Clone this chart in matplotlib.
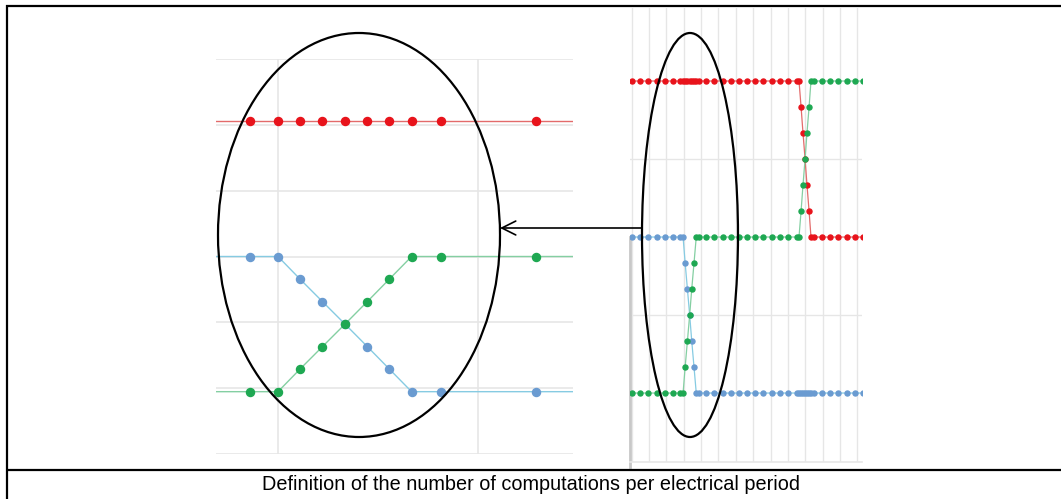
import numpy as np
import matplotlib
matplotlib.use("Agg")
import matplotlib.pyplot as plt
from matplotlib.patches import Ellipse, FancyArrowPatch

# ---------------- data ----------------
# Right panel: one electrical period (x in grid cells, y normalised levels)
t_full = [0.02, 0.48, 0.94, 1.46, 1.92, 2.38, 2.80, 2.96, 3.08, 3.21, 3.34, 3.46,
          3.59, 3.72, 3.88, 4.28, 4.74, 5.26, 5.72, 6.18, 6.64, 7.10, 7.56, 8.08,
          8.54, 9.00, 9.52, 9.64, 9.76, 9.87, 9.99, 10.10, 10.22, 10.33, 10.51,
          10.97, 11.43, 11.89, 12.41, 12.87, 13.33]
red_full = [1, 1, 1, 1, 1, 1, 1, 1, 1, 1, 1, 1, 1, 1, 1, 1, 1, 1, 1, 1, 1, 1, 1, 1,
            1, 1, 1, 1, 0.833, 0.667, 0.5, 0.333, 0.167, 0, 0, 0, 0, 0, 0, 0, 0]
green_full = [-1, -1, -1, -1, -1, -1, -1, -1, -0.833, -0.667, -0.5, -0.333, -0.167,
              0, 0, 0, 0, 0, 0, 0, 0, 0, 0, 0, 0, 0, 0, 0, 0.167, 0.333, 0.5,
              0.667, 0.833, 1, 1, 1, 1, 1, 1, 1, 1]
blue_full = [0, 0, 0, 0, 0, 0, 0, 0, -0.167, -0.333, -0.5, -0.667, -0.833, -1, -1,
             -1, -1, -1, -1, -1, -1, -1, -1, -1, -1, -1, -1, -1, -1, -1, -1, -1,
             -1, -1, -1, -1, -1, -1, -1, -1, -1]

# Left panel: zoom on the first commutation
t_zoom = [-0.45, -0.14, 0.0, 0.11, 0.222, 0.335, 0.447, 0.557, 0.668, 0.813, 1.288, 1.76]
red_zoom = [1, 1, 1, 1, 1, 1, 1, 1, 1, 1, 1, 1]
blue_zoom = [0, 0, 0, -0.167, -0.333, -0.5, -0.667, -0.833, -1, -1, -1, -1]
green_zoom = [-1, -1, -1, -0.833, -0.667, -0.5, -0.333, -0.167, 0, 0, 0, 0]

caption = "Definition of the number of computations per electrical period"

# ---------------- styling ----------------
W, H = 1061, 499
RED_M, RED_L = "#e8131b", "#e36b6b"
BLUE_M, BLUE_L = "#6a9bd1", "#86cbe2"
GREEN_M, GREEN_L = "#1ea852", "#84cfa2"
GRID = "#e6e6e6"

fig = plt.figure(figsize=(W / 100, H / 100), dpi=100)
fig.patch.set_facecolor("white")


def px_axes(x0, y0, x1, y1, **kw):
    return fig.add_axes([x0 / W, 1 - y1 / H, (x1 - x0) / W, (y1 - y0) / H], **kw)


# ---------------- left (zoom) panel ----------------
axL = px_axes(216, 59, 573, 454)
axL.set_xlim(-0.31, 1.475)
axL.set_ylim(-1.454, 1.461)
gstep = 0.487
axL.set_yticks(np.arange(-3, 4) * gstep)
axL.set_xticks([0, 1])
axL.grid(True, color=GRID, linewidth=1.2)
axL.tick_params(length=0, labelleft=False, labelbottom=False)
for s in axL.spines.values():
    s.set_visible(False)
axL.set_axisbelow(True)
for y, lc, mc in [(red_zoom, RED_L, RED_M), (blue_zoom, BLUE_L, BLUE_M),
                  (green_zoom, GREEN_L, GREEN_M)]:
    axL.plot(t_zoom, y, color=lc, lw=1.0, zorder=2)
    axL.plot(t_zoom, y, ls="none", marker="o", ms=5.8, color=mc, zorder=3)

# ---------------- right (full period) panel ----------------
axR = px_axes(630, 8, 862, 462)
axR.set_xlim(-0.098, 13.27)
axR.set_ylim(-1.442, 1.468)
axR.set_xticks(np.arange(0, 14))
axR.set_yticks([-0.5, 0.5])
axR.grid(True, color=GRID, linewidth=1.0)
axR.tick_params(length=0, labelleft=False, labelbottom=False)
for k, s in axR.spines.items():
    s.set_visible(k == "bottom")
axR.spines["bottom"].set_color(GRID)
axR.spines["bottom"].set_linewidth(1.2)
axR.set_axisbelow(True)
axR.axvline(-0.098, ymin=-0.01, ymax=0.496, color="#c8c8c8", lw=2.0, clip_on=False)
for y, lc, mc in [(red_full, RED_L, RED_M), (blue_full, BLUE_L, BLUE_M),
                  (green_full, GREEN_L, GREEN_M)]:
    axR.plot(t_full, y, color=lc, lw=0.9, zorder=2)
    axR.plot(t_full, y, ls="none", marker="o", ms=3.6, color=mc, zorder=3)

# ---------------- overlay: table borders, ellipses, arrow, caption ----------------
ax0 = fig.add_axes([0, 0, 1, 1], zorder=10)
ax0.set_xlim(0, W)
ax0.set_ylim(H, 0)
ax0.axis("off")
ax0.patch.set_alpha(0)

ax0.plot([6, W], [5.5, 5.5], color="black", lw=1.6, solid_capstyle="butt")
ax0.plot([6.5, 6.5], [5, H], color="black", lw=1.6, solid_capstyle="butt")
ax0.plot([6, W], [470, 470], color="black", lw=1.6, solid_capstyle="butt")

ax0.add_patch(Ellipse((359, 235), 282, 404, fill=False, ec="black", lw=1.6))
ax0.add_patch(Ellipse((690, 235), 96, 404, fill=False, ec="black", lw=1.6))
ax0.add_patch(FancyArrowPatch((642, 228), (500, 228), arrowstyle="->,head_length=10,head_width=5",
                              color="black", lw=1.2, mutation_scale=1, shrinkA=0, shrinkB=0))

ax0.text(531, 484, caption, ha="center", va="center", fontsize=14.3,
         family=["Liberation Sans", "DejaVu Sans"], color="black")

fig.savefig("out.png", dpi=100, facecolor="white")
